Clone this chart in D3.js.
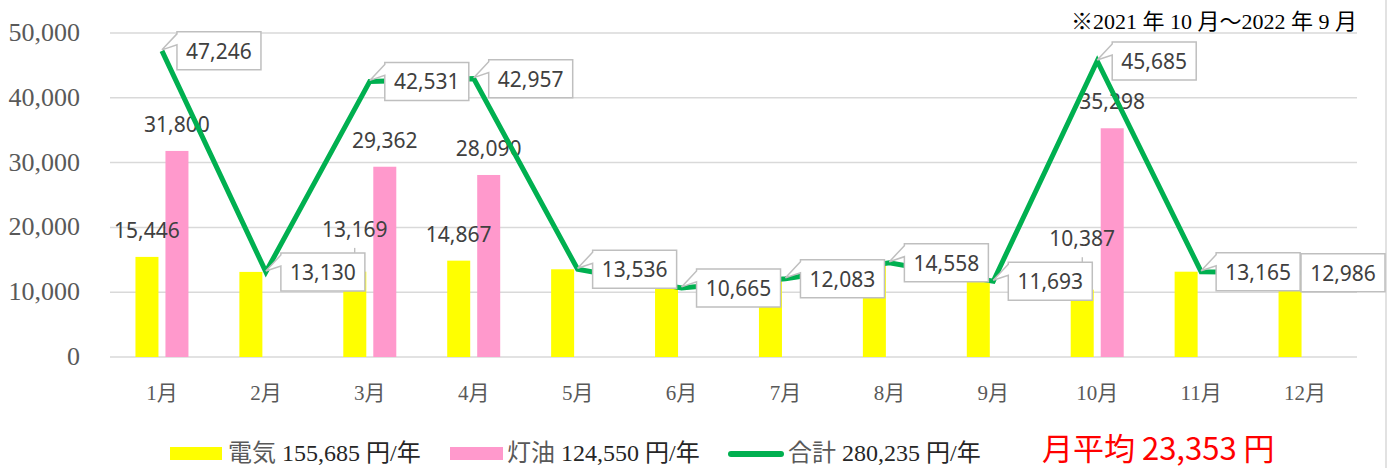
<!DOCTYPE html>
<html lang="ja">
<head>
    <meta charset="UTF-8">
    <title>光熱費</title>
    <script src="https://cdn.jsdelivr.net/npm/d3@7"></script>
    <style>
        body { margin: 0; background: #fff; }
        svg { display: block; }
        .serif { font-family: "Liberation Serif", "Noto Sans CJK JP", serif; }
        .num { font-family: "Noto Sans", "Open Sans", sans-serif; }
    </style>
</head>
<body>
<svg width="1396" height="468"></svg>
<script>
    // 月別データ（円）
    var months = ["1月", "2月", "3月", "4月", "5月", "6月", "7月", "8月", "9月", "10月", "11月", "12月"];
    var elec = [15446, 13130, 13169, 14867, 13536, 10665, 12083, 14558, 11693, 10387, 13165, 12986];
    var kero = [31800, null, 29362, 28090, null, null, null, null, null, 35298, null, null];
    var total = [47246, 13130, 42531, 42957, 13536, 10665, 12083, 14558, 11693, 45685, 13165, 12986];
    var yTicks = [0, 10000, 20000, 30000, 40000, 50000];
    var seriesNames = ["電気", "灯油", "合計"];
    var note = "※2021 年 10 月～2022 年 9 月";

    var svg = d3.select("svg");
    var plot = {left: 110, right: 1357, top: 33, bottom: 357};
    var fmt = d3.format(",");

    var x = d3.scaleBand().domain(months).range([plot.left, plot.right]);
    var xs = d3.scaleBand().domain(["elec", "kero"])
        .range([x.bandwidth() / 2 - 26.5, x.bandwidth() / 2 + 26.5])
        .paddingInner(7 / 30);
    var y = d3.scaleLinear().domain([0, 50000]).range([plot.bottom, plot.top]);

    // 枠線（右）
    svg.append("line")
        .attr("x1", 1386).attr("x2", 1386).attr("y1", 0).attr("y2", 468)
        .attr("stroke", "#d9d9d9").attr("stroke-width", 1.5);

    // グリッド
    svg.append("g").selectAll("line")
        .data(yTicks)
        .enter().append("line")
        .attr("x1", plot.left).attr("x2", plot.right)
        .attr("y1", function (d) { return y(d); })
        .attr("y2", function (d) { return y(d); })
        .attr("stroke", "#d9d9d9").attr("stroke-width", 1.5);

    // y軸ラベル
    svg.append("g").selectAll("text")
        .data(yTicks)
        .enter().append("text")
        .attr("class", "serif")
        .attr("x", 80)
        .attr("y", function (d) { return y(d) + 8; })
        .attr("text-anchor", "end")
        .attr("font-size", 26)
        .attr("fill", "#595959")
        .text(function (d) { return fmt(d); });

    // x軸ラベル
    svg.append("g").selectAll("text")
        .data(months)
        .enter().append("text")
        .attr("class", "serif")
        .attr("x", function (d) { return x(d) + x.bandwidth() / 2; })
        .attr("y", 400)
        .attr("text-anchor", "middle")
        .attr("font-size", 21)
        .attr("fill", "#595959")
        .text(function (d) { return d; });

    // 棒グラフ
    var bars = svg.append("g");
    bars.selectAll(".elec")
        .data(elec)
        .enter().append("rect")
        .attr("class", "elec")
        .attr("x", function (d, i) { return x(months[i]) + xs("elec"); })
        .attr("y", function (d) { return y(d); })
        .attr("width", xs.bandwidth())
        .attr("height", function (d) { return y(0) - y(d); })
        .attr("fill", "#ffff00");
    bars.selectAll(".kero")
        .data(kero)
        .enter().filter(function (d) { return d != null; })
        .append("rect")
        .attr("class", "kero")
        .attr("x", function (d) { return x(months[kero.indexOf(d)]) + xs("kero"); })
        .attr("y", function (d) { return y(d); })
        .attr("width", xs.bandwidth())
        .attr("height", function (d) { return y(0) - y(d); })
        .attr("fill", "#ff99cc");

    // 吹き出しの位置
    var boxW = 84, boxH = 38;
    var callouts = total.map(function (v, i) {
        var px = x(months[i]) + x.bandwidth() / 2;
        var py = y(v);
        var bx = Math.min(px + 15, 1385 - boxW);
        return {v: v, px: px, py: py, bx: bx, by: py - boxH / 2};
    });

    // 棒のラベル（灯油のある月のみ）
    var labels = [];
    kero.forEach(function (k, i) {
        if (k == null) return;
        labels.push({v: k, cx: x(months[i]) + xs("kero") + xs.bandwidth() / 2, cy: y(k) - 26});
        var lab = {v: elec[i], cx: x(months[i]) + xs("elec") + xs.bandwidth() / 2, cy: y(elec[i]) - 26, lead: null};
        // 吹き出しと重なる場合は上へ逃がす
        callouts.forEach(function (c) {
            if (lab.cx + 33 > c.bx && lab.cx - 33 < c.bx + boxW &&
                lab.cy + 12 > c.by && lab.cy - 12 < c.by + boxH) {
                lab.cy = c.by - 23;
                lab.lead = c.by;
            }
        });
        labels.push(lab);
    });

    var labG = svg.append("g");
    labG.selectAll("text")
        .data(labels)
        .enter().append("text")
        .attr("class", "num")
        .attr("x", function (d) { return d.cx; })
        .attr("y", function (d) { return d.cy + 7; })
        .attr("text-anchor", "middle")
        .attr("font-size", 21)
        .attr("fill", "#404040")
        .text(function (d) { return fmt(d.v); });
    labG.selectAll("line")
        .data(labels.filter(function (d) { return d.lead != null; }))
        .enter().append("line")
        .attr("x1", function (d) { return d.cx; })
        .attr("x2", function (d) { return d.cx; })
        .attr("y1", function (d) { return d.lead - 5; })
        .attr("y2", function (d) { return d.lead; })
        .attr("stroke", "#a6a6a6").attr("stroke-width", 1);

    // 合計の折れ線
    var line = d3.line()
        .x(function (d, i) { return x(months[i]) + x.bandwidth() / 2; })
        .y(function (d) { return y(d); });
    svg.append("path")
        .datum(total)
        .attr("d", line)
        .attr("fill", "none")
        .attr("stroke", "#00b050")
        .attr("stroke-width", 5);

    // 吹き出し
    var cg = svg.append("g").selectAll("g")
        .data(callouts)
        .enter().append("g");
    cg.append("path")
        .attr("d", function (c) {
            var p = d3.path();
            p.moveTo(c.bx, c.by);
            p.lineTo(c.bx + boxW, c.by);
            p.lineTo(c.bx + boxW, c.by + boxH);
            p.lineTo(c.bx, c.by + boxH);
            if (c.bx - c.px > 5) {
                p.lineTo(c.bx, c.by + 13);
                p.lineTo(c.px, c.py - 1);
                p.lineTo(c.bx, c.by + 2);
            }
            p.closePath();
            return p.toString();
        })
        .attr("fill", "#fff")
        .attr("stroke", "#bfbfbf")
        .attr("stroke-width", 1.5);
    cg.append("text")
        .attr("class", "num")
        .attr("x", function (c) { return c.bx + boxW / 2; })
        .attr("y", function (c) { return c.by + boxH / 2 + 8; })
        .attr("text-anchor", "middle")
        .attr("font-size", 21)
        .attr("fill", "#404040")
        .text(function (c) { return fmt(c.v); });

    // 期間の注記
    svg.append("text")
        .attr("class", "serif")
        .attr("x", 1357).attr("y", 29)
        .attr("text-anchor", "end")
        .attr("font-size", 22)
        .attr("fill", "#000")
        .text(note);

    // 凡例
    var sums = [d3.sum(elec), d3.sum(kero), d3.sum(total)];
    var leg = svg.append("g");
    leg.append("rect").attr("x", 170).attr("y", 447).attr("width", 52).attr("height", 13).attr("fill", "#ffff00");
    leg.append("rect").attr("x", 450).attr("y", 447).attr("width", 53).attr("height", 13).attr("fill", "#ff99cc");
    leg.append("line").attr("x1", 731).attr("x2", 781).attr("y1", 454).attr("y2", 454)
        .attr("stroke", "#00b050").attr("stroke-width", 6).attr("stroke-linecap", "round");
    [228, 507, 788].forEach(function (lx, i) {
        var t = leg.append("text")
            .attr("class", "serif")
            .attr("x", lx).attr("y", 461)
            .attr("font-size", 24);
        t.append("tspan").attr("fill", "#595959").text(seriesNames[i]);
        t.append("tspan").attr("fill", "#262626").text(" " + fmt(sums[i]) + " 円/年");
    });
    svg.append("text")
        .attr("x", 1042).attr("y", 460)
        .attr("font-family", "'Noto Sans CJK JP', sans-serif")
        .attr("font-size", 31)
        .attr("fill", "#ff0000")
        .text("月平均 " + fmt(Math.round(sums[2] / 12)) + " 円");
</script>
</body>
</html>
